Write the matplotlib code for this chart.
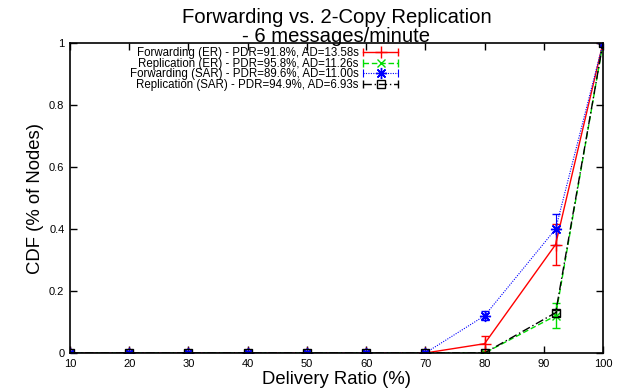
import matplotlib.pyplot as plt
from matplotlib.legend_handler import HandlerLine2D
from matplotlib.lines import Line2D

plt.rcParams['font.family'] = ['Liberation Sans', 'DejaVu Sans']

# delivery ratio points (x) and CDF values per series
ratio = [10, 20, 30, 40, 50, 60, 70, 80, 92, 100]

fwd_er = [0, 0, 0, 0, 0, 0, 0, 0.03, 0.35, 1.0]
fwd_er_err = [0, 0, 0, 0, 0, 0, 0, 0.025, 0.065, 0]

rep_er = [0, 0, 0, 0, 0, 0, 0, 0, 0.12, 1.0]
rep_er_err = [0, 0, 0, 0, 0, 0, 0, 0, 0.04, 0]

fwd_sar = [0, 0, 0, 0, 0, 0, 0, 0.12, 0.40, 1.0]
fwd_sar_err = [0, 0, 0, 0, 0, 0, 0, 0.015, 0.05, 0]

rep_sar = [0, 0, 0, 0, 0, 0, 0, 0, 0.13, 1.0]
rep_sar_err = [0, 0, 0, 0, 0, 0, 0, 0, 0.01, 0]

labels = ["Forwarding (ER) - PDR=91.8%, AD=13.58s",
          "Replication (ER) - PDR=95.8%, AD=11.26s",
          "Forwarding (SAR) - PDR=89.6%, AD=11.00s",
          "Replication (SAR) - PDR=94.9%, AD=6.93s"]

xticks = [10, 20, 30, 40, 50, 60, 70, 80, 90, 100]
yticks = [0, 0.2, 0.4, 0.6, 0.8, 1]


# gnuplot style legend sample: line, marker in the middle, caps at both ends
class CapLine(HandlerLine2D):
    def create_artists(self, legend, orig_handle, xdescent, ydescent, width, height, fontsize, trans):
        arts = super().create_artists(legend, orig_handle, xdescent, ydescent, width, height, fontsize, trans)
        y = height / 2 - ydescent
        caps = Line2D([-xdescent, width - xdescent], [y, y], ls='none', marker='|', ms=6,
                      mew=orig_handle.get_linewidth(), color=orig_handle.get_color(), transform=trans)
        return list(arts) + [caps]


fig = plt.figure(figsize=(6.24, 3.92), dpi=100)
ax = fig.add_axes([70 / 624, 39 / 392, 533 / 624, 310 / 392])

styles = [
    dict(color='red', lw=1, ls='-', marker='+', ms=8),
    dict(color='#00dd00', lw=1, ls=(0, (4, 2)), marker='x', ms=6),
    dict(color='blue', lw=0.8, ls=(0, (1, 1.2)), marker=(8, 2, 0), ms=8),
    dict(color='black', lw=1, ls=(0, (6, 2, 1, 2)), marker='s', ms=6, mfc='none'),
]
series = [(fwd_er, fwd_er_err), (rep_er, rep_er_err), (fwd_sar, fwd_sar_err), (rep_sar, rep_sar_err)]

handles = []
for (vals, errs), st, lab in zip(series, styles, labels):
    cont = ax.errorbar(ratio, vals, yerr=errs, mew=1, capsize=3, elinewidth=st['lw'], **st)
    handles.append(cont[0])

ax.set_xlim(10, 100)
ax.set_ylim(0, 1)
ax.set_xticks(xticks)
ax.set_yticks(yticks)
ax.set_yticklabels(['0', '0.2', '0.4', '0.6', '0.8', '1'])
ax.tick_params(direction='in', top=True, right=True, labelsize=8, length=5, width=1, pad=4)
for s in ax.spines.values():
    s.set_linewidth(1.2)

ax.set_xlabel("Delivery Ratio (%)", fontsize=13.3, labelpad=2)
ax.set_ylabel("CDF (% of Nodes)", fontsize=13.3, labelpad=4)
ax.set_title("Forwarding vs. 2-Copy Replication\n- 6 messages/minute", fontsize=14.6,
             linespacing=0.95, pad=1)

leg = ax.legend(handles, labels, loc='upper right', bbox_to_anchor=(399 / 624, 1 - 46 / 392),
                bbox_transform=fig.transFigure, frameon=False, fontsize=8.3,
                markerfirst=False, handlelength=3.0, handletextpad=0.42,
                labelspacing=-0.12, borderaxespad=0, borderpad=0.1,
                handler_map={Line2D: CapLine(numpoints=1)})
for t in leg.get_texts():
    t.set_ha('right')
vp = leg._legend_box.get_children()[1]
for c in vp.get_children():
    c.align = 'right'

fig.savefig("out.png", dpi=100)
